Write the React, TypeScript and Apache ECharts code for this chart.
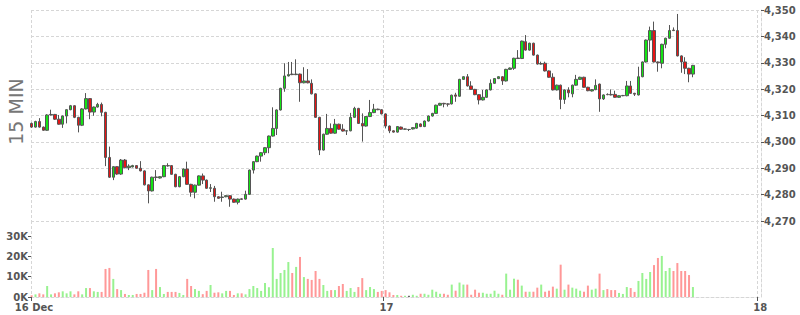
import React, { useEffect, useRef } from 'react';
import * as echarts from 'echarts';

// 15-minute candles, 16 Dec (index 0) to 17 Dec (index 170)
const opens = [
  4307.0,4305.6,4307.7,4305.6,4304.4,4310.2,4310.4,4308.6,4306.7,4309.8,
  4312.2,4313.7,4309.3,4306.3,4312.5,4316.4,4311.3,4313.2,4314.2,4311.2,
  4294.1,4286.6,4290.6,4287.8,4293.1,4290.2,4290.5,4291.0,4290.0,4289.0,
  4283.7,4281.4,4286.7,4286.3,4286.8,4291.0,4291.0,4287.7,4283.0,4286.8,
  4289.7,4283.9,4280.9,4283.6,4287.1,4285.5,4282.4,4282.4,4279.2,4278.9,
  4279.2,4279.6,4278.3,4277.1,4278.4,4278.3,4280.1,4289.3,4292.5,4294.6,
  4295.9,4297.8,4302.2,4305.1,4312.1,4320.3,4325.0,4325.7,4325.5,4325.7,
  4322.4,4323.1,4322.2,4318.2,4309.3,4296.9,4302.9,4305.1,4303.3,4306.7,
  4304.8,4304.1,4304.2,4309.3,4312.7,4307.0,4306.0,4309.6,4311.1,4312.4,
  4312.2,4310.6,4306.0,4304.2,4303.7,4305.6,4304.8,4304.7,4304.9,4305.2,
  4306.8,4305.8,4307.9,4309.8,4310.8,4313.9,4314.6,4314.4,4314.4,4317.8,
  4317.3,4323.7,4324.7,4321.2,4319.9,4317.9,4315.9,4316.9,4319.7,4322.2,
  4324.0,4324.7,4323.1,4327.5,4327.9,4331.8,4331.6,4338.0,4334.8,4337.4,
  4332.9,4329.5,4329.8,4326.9,4324.5,4319.7,4321.5,4316.1,4319.7,4318.2,
  4321.5,4323.7,4324.5,4320.7,4319.3,4319.8,4321.9,4316.3,4318.0,4318.0,
  4318.0,4316.9,4317.5,4317.5,4321.2,4318.4,4317.8,4324.7,4330.3,4338.6,
  4342.2,4330.3,4329.8,4337.0,4339.3,4342.4,4342.2,4332.6,4330.3,4327.9,
  4325.7,
];

const closes = [
  4305.6,4307.7,4305.6,4304.4,4310.2,4310.4,4308.6,4306.7,4309.8,4312.2,
  4313.7,4309.3,4306.3,4312.5,4316.4,4311.3,4313.2,4314.2,4311.2,4294.1,
  4286.6,4290.6,4287.8,4293.1,4290.2,4290.8,4291.0,4290.0,4289.0,4283.7,
  4281.4,4286.6,4286.5,4286.8,4291.0,4290.9,4287.7,4283.0,4286.8,4289.7,
  4283.9,4280.9,4283.6,4287.1,4285.5,4282.4,4282.6,4279.2,4278.6,4279.1,
  4279.6,4278.3,4277.1,4278.3,4278.2,4280.1,4289.3,4292.5,4294.6,4295.9,
  4297.8,4302.2,4305.1,4312.1,4320.3,4325.0,4325.5,4325.5,4325.7,4322.4,
  4323.1,4322.4,4318.2,4309.3,4296.9,4302.9,4305.1,4303.3,4306.7,4304.8,
  4304.1,4304.2,4309.3,4312.7,4307.0,4306.0,4309.6,4311.1,4312.4,4312.2,
  4310.6,4306.0,4304.2,4303.7,4305.8,4304.8,4304.9,4304.7,4305.4,4307.0,
  4305.8,4307.9,4309.8,4310.8,4313.9,4314.6,4314.4,4314.3,4317.7,4317.3,
  4323.7,4324.7,4321.2,4319.9,4317.9,4315.9,4316.9,4319.7,4322.2,4324.0,
  4324.7,4323.1,4327.5,4328.0,4331.7,4331.6,4338.2,4334.8,4337.4,4332.9,
  4329.5,4329.7,4326.9,4324.5,4319.7,4321.5,4316.1,4319.7,4318.6,4321.5,
  4323.7,4324.5,4320.7,4319.4,4319.8,4321.4,4316.3,4317.8,4317.9,4317.8,
  4316.9,4317.5,4317.6,4321.2,4318.4,4318.1,4324.7,4330.3,4338.6,4342.2,
  4330.3,4330.0,4337.0,4339.3,4342.2,4342.2,4332.6,4330.3,4327.9,4325.7,
  4329.0,
];

const lows = [
  4305.3,4305.4,4305.4,4304.2,4304.2,4310.0,4308.3,4306.5,4305.3,4307.0,
  4312.0,4309.0,4303.6,4306.0,4312.3,4308.6,4309.9,4313.0,4309.7,4290.8,
  4286.3,4285.5,4287.5,4287.5,4290.0,4289.3,4290.3,4289.8,4288.8,4283.5,
  4276.7,4281.2,4285.2,4286.1,4286.6,4290.6,4287.5,4282.8,4282.8,4286.6,
  4283.7,4279.2,4278.6,4283.4,4284.0,4282.2,4281.0,4277.3,4278.4,4277.3,
  4279.0,4275.4,4276.9,4276.3,4278.0,4278.1,4279.9,4288.0,4292.3,4292.5,
  4295.0,4295.7,4302.0,4302.6,4311.9,4319.0,4324.8,4325.3,4325.3,4315.2,
  4322.2,4322.2,4318.0,4309.1,4295.0,4296.7,4302.7,4303.1,4303.1,4304.6,
  4303.9,4302.6,4304.0,4309.1,4306.8,4300.1,4305.8,4309.4,4310.9,4312.0,
  4310.4,4305.1,4303.3,4303.5,4303.5,4304.6,4304.6,4304.1,4304.7,4305.0,
  4305.6,4305.6,4307.7,4309.6,4310.6,4313.7,4313.1,4313.4,4314.2,4315.2,
  4317.1,4323.5,4321.0,4319.7,4317.7,4314.2,4315.7,4316.7,4319.5,4322.0,
  4323.8,4321.6,4322.9,4327.3,4327.3,4331.4,4331.4,4334.6,4334.6,4332.7,
  4329.3,4329.3,4326.7,4324.3,4319.5,4319.5,4312.4,4314.4,4316.9,4316.9,
  4321.3,4323.5,4320.5,4319.2,4319.1,4319.6,4311.4,4315.9,4317.7,4317.6,
  4316.7,4316.7,4317.3,4317.3,4318.2,4317.4,4317.6,4324.5,4330.1,4334.2,
  4330.1,4326.6,4327.9,4335.5,4339.1,4342.0,4332.4,4326.2,4325.7,4322.6,
  4324.5,
];

const highs = [
  4307.3,4308.0,4309.0,4305.8,4310.5,4312.2,4310.6,4310.2,4310.0,4312.4,
  4314.0,4313.9,4309.5,4312.8,4318.5,4316.6,4313.4,4314.8,4314.9,4311.4,
  4298.2,4290.8,4290.8,4293.5,4293.5,4291.5,4291.3,4291.2,4292.7,4289.2,
  4283.9,4286.8,4289.3,4287.0,4291.2,4291.9,4291.2,4287.9,4287.0,4289.9,
  4292.5,4284.1,4283.8,4287.3,4288.0,4285.7,4284.0,4283.3,4279.4,4281.1,
  4279.8,4279.8,4278.5,4278.5,4278.6,4281.5,4289.5,4292.7,4294.8,4296.1,
  4298.0,4302.4,4313.1,4312.3,4320.5,4329.8,4330.3,4330.3,4331.3,4325.9,
  4328.3,4327.6,4323.7,4318.4,4309.5,4303.1,4310.6,4307.0,4308.7,4306.9,
  4306.7,4304.4,4311.0,4313.3,4312.9,4310.8,4309.8,4315.9,4314.4,4312.6,
  4312.4,4310.8,4306.2,4304.4,4306.0,4305.8,4305.1,4304.9,4305.6,4307.2,
  4307.0,4308.1,4310.0,4311.0,4314.1,4314.8,4314.8,4314.6,4317.9,4318.6,
  4323.9,4324.9,4325.7,4323.0,4320.1,4318.1,4319.7,4319.9,4323.7,4324.2,
  4324.9,4324.9,4327.7,4328.2,4331.9,4334.8,4338.4,4340.5,4337.6,4337.6,
  4333.1,4330.4,4330.4,4327.1,4326.0,4321.7,4321.7,4319.9,4320.7,4321.7,
  4325.4,4324.7,4324.7,4320.9,4320.0,4323.7,4322.1,4318.0,4318.4,4319.9,
  4319.4,4317.7,4317.8,4323.1,4323.1,4318.6,4328.5,4330.5,4338.8,4343.7,
  4345.6,4330.5,4337.2,4339.5,4344.3,4343.4,4348.5,4332.8,4332.1,4328.1,
  4329.2,
];

// volume in thousands
const volumesK = [
  0.8,1.3,1.8,1.3,5.4,1.3,1.8,2.3,2.8,1.8,
  2.8,1.3,2.8,1.3,4.4,4.4,2.8,2.5,2.5,13.8,
  14.3,8.9,3.9,3.4,1.5,1.0,1.0,1.5,1.5,2.1,
  13.3,3.4,13.8,4.9,1.5,2.5,2.5,2.5,2.0,1.0,
  8.9,5.4,3.9,3.0,1.4,3.0,5.9,2.1,2.3,1.8,
  3.0,3.0,1.0,1.8,1.8,1.3,3.9,5.4,4.4,3.0,
  6.9,4.8,24.1,8.9,11.8,13.3,17.2,11.8,14.8,19.7,
  9.8,8.9,8.4,12.8,8.9,5.9,3.0,3.4,3.4,5.4,
  6.4,3.0,4.4,2.5,4.9,9.3,3.4,4.9,3.9,2.5,
  3.0,3.4,2.3,1.0,1.0,0.6,0.6,0.6,1.1,0.6,
  1.6,1.6,1.1,3.6,2.6,1.6,1.6,1.1,6.1,3.1,
  7.1,6.1,6.1,1.1,3.6,2.1,2.1,1.6,1.6,3.1,
  1.6,1.1,11.5,3.6,9.0,8.5,5.6,2.6,2.6,2.6,
  4.6,6.1,2.6,3.1,5.1,4.1,15.9,3.6,6.1,4.6,
  4.1,3.1,2.6,5.6,3.6,4.1,11.5,3.4,3.9,3.4,
  3.4,2.0,1.5,4.9,4.4,2.5,7.9,11.8,8.9,12.3,
  15.7,19.2,20.2,12.8,14.3,12.8,16.7,12.8,12.8,10.8,
  4.9,
];

const dayLabels = ['16 Dec', '17', '18'];
const dayTickPositions = [-0.154, 90.41, 186.48];
const dayLabelPositions = [0.6, 91.2, 187.3];
const volumeTicks = [0, 10, 20, 30];

const X_MIN = -0.154;
const X_MAX = 187.5;

const UP = '#14e414';
const DOWN = '#e81414';
const VOL_UP = '#98f290';
const VOL_DOWN = '#ff9898';
const VOL_FLAT = '#666666';
const GRID_LINE = { color: '#d6d6d6', type: [3, 2] as number[], width: 1 };
const LABEL = {
  color: '#555',
  fontSize: 10,
  lineHeight: 10,
  fontWeight: 'bold' as const,
  fontFamily: 'DejaVu Sans',
};

export default function App() {
  const ref = useRef<HTMLDivElement>(null);

  useEffect(() => {
    if (!ref.current) return;
    const chart = echarts.init(ref.current, undefined, { renderer: 'svg' });

    const candleData = opens.map((o, i) => [i, o, closes[i], lows[i], highs[i]]);
    const volData = volumesK.map((v, i) => {
      const c = closes[i] > opens[i] ? VOL_UP : closes[i] < opens[i] ? VOL_DOWN : VOL_FLAT;
      return { value: [i, v], itemStyle: { color: c } };
    });

    const dayFormatter = (v: number) => {
      let best = 0;
      for (let k = 1; k < dayLabelPositions.length; k++) {
        if (Math.abs(dayLabelPositions[k] - v) < Math.abs(dayLabelPositions[best] - v)) best = k;
      }
      return dayLabels[best];
    };

    chart.setOption({
      animation: false,
      backgroundColor: '#ffffff',
      textStyle: { fontFamily: 'DejaVu Sans' },
      graphic: [
        {
          type: 'text',
          x: 15.5,
          y: 111.5,
          rotation: Math.PI / 2,
          style: {
            text: '15 MIN',
            fill: '#777',
            fontSize: 19,
            fontFamily: 'DejaVu Sans',
            align: 'center',
            verticalAlign: 'middle',
          },
        },
      ],
      grid: [
        { left: 31, right: 39, top: 10, height: 211 },
        { left: 31, right: 39, top: 221, height: 76 },
      ],
      xAxis: [
        {
          type: 'value',
          gridIndex: 0,
          min: X_MIN,
          max: X_MAX,
          axisLine: { show: false, onZero: false },
          axisTick: { show: false, customValues: dayTickPositions },
          axisLabel: { show: false },
          splitLine: { show: true, lineStyle: GRID_LINE },
        },
        {
          type: 'value',
          gridIndex: 1,
          min: X_MIN,
          max: X_MAX,
          axisLine: { show: true, onZero: false, lineStyle: GRID_LINE },
          axisTick: { show: true, customValues: dayTickPositions, length: 4, lineStyle: { color: '#555' } },
          axisLabel: { ...LABEL, customValues: dayLabelPositions, formatter: dayFormatter, margin: 5 },
          splitLine: { show: true, lineStyle: GRID_LINE },
        },
      ],
      yAxis: [
        {
          type: 'value',
          gridIndex: 0,
          position: 'right',
          min: 4270,
          max: 4350,
          interval: 10,
          axisLine: { show: true, onZero: false, lineStyle: GRID_LINE },
          axisTick: { show: true, length: 3, lineStyle: { color: '#555' } },
          axisLabel: {
            ...LABEL,
            margin: 3,
            formatter: (v: number) => v.toLocaleString('en-US'),
          },
          splitLine: { show: true, lineStyle: GRID_LINE },
        },
        {
          type: 'value',
          gridIndex: 1,
          position: 'left',
          min: 0,
          max: 37.38,
          axisLine: { show: false, onZero: false },
          axisTick: { show: true, customValues: volumeTicks, length: 3, lineStyle: { color: '#555' } },
          axisLabel: { ...LABEL, customValues: volumeTicks, margin: 3, formatter: (v: number) => `${v}K` },
          splitLine: { show: false },
        },
        {
          type: 'value',
          gridIndex: 1,
          position: 'right',
          min: 0,
          max: 37.38,
          axisLine: { show: true, onZero: false, lineStyle: GRID_LINE },
          axisTick: { show: false },
          axisLabel: { show: false },
          splitLine: { show: false },
        },
      ],
      series: [
        {
          type: 'candlestick',
          xAxisIndex: 0,
          yAxisIndex: 0,
          dimensions: ['x', 'open', 'close', 'lowest', 'highest'],
          encode: { x: 0, y: [1, 2, 3, 4] },
          data: candleData,
          barWidth: 3,
          itemStyle: {
            color: UP,
            color0: DOWN,
            borderColor: '#555',
            borderColor0: '#555',
            borderColorDoji: '#555',
            borderWidth: 1,
          },
        },
        {
          type: 'bar',
          xAxisIndex: 1,
          yAxisIndex: 1,
          data: volData,
          barWidth: 2,
        },
      ],
    });

    return () => chart.dispose();
  }, []);

  return (
    <div
      ref={ref}
      style={{ position: 'fixed', left: 0, top: 0, width: 800, height: 315, background: '#fff' }}
    />
  );
}
